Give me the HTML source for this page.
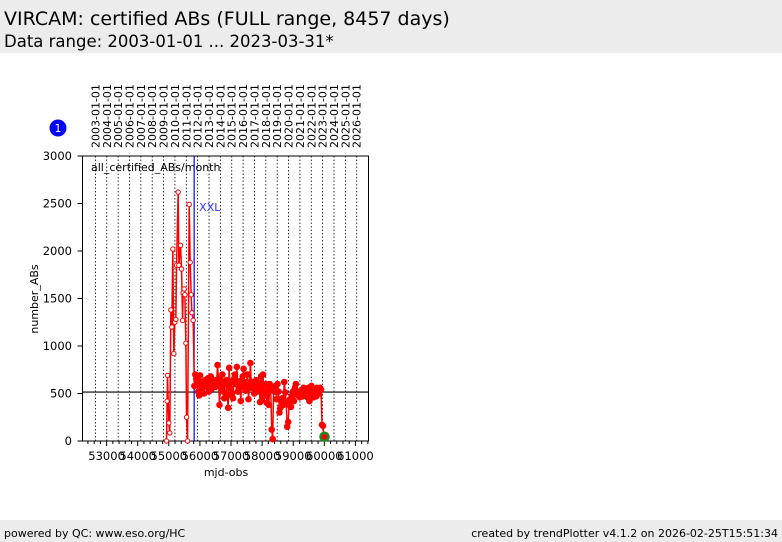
<!DOCTYPE html>
<html><head><meta charset="utf-8"><style>
body{margin:0;background:#fff;font-family:"DejaVu Sans","Liberation Sans",sans-serif;}
#wrap{position:relative;width:782px;height:542px;overflow:hidden;}
</style></head><body>
<div id="wrap">
<svg id="svg" width="782" height="542" viewBox="0 0 782 542" xmlns="http://www.w3.org/2000/svg" font-family="DejaVu Sans, Liberation Sans, sans-serif">
<rect x="0" y="0" width="782" height="53" fill="#ececec"/>
<text x="4" y="25" font-size="19" fill="#000">VIRCAM: certified ABs (FULL range, 8457 days)</text>
<text x="4" y="47" font-size="16.5" fill="#000">Data range: 2003-01-01 ... 2023-03-31*</text>
<rect x="0" y="520" width="782" height="22" fill="#ececec"/>
<text x="4" y="537" font-size="11">powered by QC: www.eso.org/HC</text>
<text x="778" y="537" font-size="11" text-anchor="end">created by trendPlotter v4.1.2 on 2026-02-25T15:51:34</text>
<circle cx="58" cy="128" r="8.5" fill="#0000ff"/>
<text x="58" y="132" font-size="11" fill="#fff" text-anchor="middle">1</text>
<g id="g"></g>
</svg>
</div>
<script>
const yTicks=[0,500,1000,1500,2000,2500,3000];
const xTicks=[53000,54000,55000,56000,57000,58000,59000,60000,61000];
const years=[2003,2004,2005,2006,2007,2008,2009,2010,2011,2012,2013,2014,2015,2016,2017,2018,2019,2020,2021,2022,2023,2024,2025,2026];
const refLine=515;
const xxlMjd=55815;
const earlyMjd=[54926,54945,54958,55000,55032,55065,55097,55129,55161,55194,55226,55248,55300,55323,55377,55410,55442,55461,55494,55516,55548,55571,55603,55655,55687,55719,55742,55784];
const earlyVal=[0,420,690,190,85,1380,1200,2020,920,1250,1280,1850,2620,1850,2060,1810,1270,1560,1600,1540,1030,250,0,2490,1880,1540,1350,1270];
const lateStart=55820;
const lateStep=31.1;
const lateVal=[580,700,650,600,520,480,690,620,560,600,500,640,
610,570,660,520,600,680,550,590,620,640,570,600,
800,650,380,620,560,700,520,450,600,640,480,350,
770,560,620,500,450,650,700,600,780,520,560,630,
420,600,680,760,560,530,620,700,440,600,820,560,
620,580,500,600,640,520,560,610,410,680,430,700,
520,480,600,400,560,380,600,540,120,20,560,520,
580,440,600,520,300,350,420,450,380,620,510,400,
150,200,380,440,360,480,520,420,560,600,500,480,
520,460,480,510,470,560,500,490,550,460,560,420,
540,580,480,460,520,500,470,560,540,500,560,540,
170,160,45];
const lastMjd=60005, lastVal=45;

const L=82.5,R=368.5,T=156,B=441;
const X0=52225,X1=61420;
const sx=m=>L+(m-X0)/(X1-X0)*(R-L);
const sy=v=>B-v/3000*(B-T);
const ns="http://www.w3.org/2000/svg";
const g=document.getElementById('g');
function mk(tag,attrs,parent){const e=document.createElementNS(ns,tag);for(const k in attrs)e.setAttribute(k,attrs[k]);(parent||g).appendChild(e);return e;}
function mjdOfYear(y){return Math.floor((Date.UTC(y,0,1)/86400000)+40587);}
years.forEach(y=>{
 const x=sx(mjdOfYear(y));
 const ln=mk('line',{x1:x,x2:x,y1:T,y2:B,stroke:'#000','stroke-width':0.8,'stroke-dasharray':'1.5,2'});
 
 
 const t=mk('text',{x:0,y:0,'font-size':11,transform:`translate(${x+4},148) rotate(-90)`});
 t.textContent=y+'-01-01';
 
 
});
const fr=mk('rect',{x:L,y:T,width:R-L,height:B-T,fill:'none',stroke:'#000','stroke-width':1});


yTicks.forEach(v=>{
 const y=sy(v);
 mk('line',{x1:L-5,x2:L,y1:y,y2:y,stroke:'#000'});
 const t=mk('text',{x:72,y:y+4,'font-size':11.5,'text-anchor':'end'});
 t.textContent=v;
 
 
});
for(let m=52400;m<=61400;m+=200){const x=sx(m);mk('line',{x1:x,x2:x,y1:B,y2:B+(m%1000===0?5:3),stroke:'#000'});}
xTicks.forEach(m=>{
 const t=mk('text',{x:sx(m),y:460,'font-size':11.5,'text-anchor':'middle'});
 t.textContent=m;
 
 
});
const xt=mk('text',{x:226,y:476,'font-size':11,'text-anchor':'middle'});xt.textContent='mjd-obs';


const yt=mk('text',{x:0,y:0,'font-size':11,'text-anchor':'middle',transform:'translate(38,299) rotate(-90)'});yt.textContent='number_ABs';


const lg=mk('text',{x:91,y:171,'font-size':11});lg.textContent='all_certified_ABs/month';


const rl=mk('line',{x1:L,x2:R,y1:sy(refLine),y2:sy(refLine),stroke:'#000','stroke-width':1.2});


const xl=mk('line',{x1:sx(xxlMjd),x2:sx(xxlMjd),y1:T,y2:B,stroke:'#0000ff','stroke-width':1.2});


const xx=mk('text',{x:sx(xxlMjd)+5,y:211,'font-size':11,fill:'#3333ff'});xx.textContent='XXL';


const pts=[];
earlyMjd.forEach((m,i)=>pts.push([m,earlyVal[i],0]));
lateVal.forEach((v,i)=>pts.push([lateStart+i*lateStep,v,1]));
const pl=mk('polyline',{points:pts.map(p=>sx(p[0])+','+sy(p[1])).join(' '),fill:'none',stroke:'#ff0000','stroke-width':1.5});


pts.forEach(p=>{
 const c=mk('circle',{cx:sx(p[0]),cy:sy(p[1]),r:p[2]?2.8:2.2,fill:p[2]?'#ff0000':'#fff',stroke:'#ff0000','stroke-width':1});
 
 
});
const lp=mk('circle',{cx:sx(lastMjd),cy:sy(lastVal),r:4,fill:'#ff0000',stroke:'#1a8a1a','stroke-width':2.5});


</script>
</body></html>
